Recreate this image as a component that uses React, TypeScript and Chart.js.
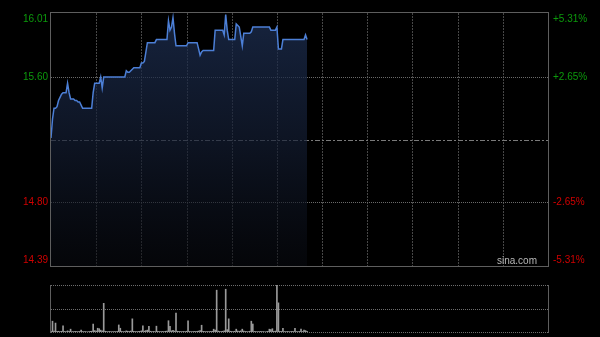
import React, { useEffect, useRef } from 'react';
import { Chart, registerables } from 'chart.js';

Chart.register(...registerables);

// ---- data ----
const TOTAL_MINUTES = 330; // HK session 09:30-12:00, 13:00-16:00
const prevClose = 15.2;
const priceMin = 14.39;
const priceMax = 16.01;
const priceTicks = [16.01, 15.6, 15.2, 14.8, 14.39];
const priceTickLabels = ['16.01', '15.60', '', '14.80', '14.39'];
const pctTickLabels = ['+5.31%', '+2.65%', '', '-2.65%', '-5.31%'];
const gridMinutes = [30, 60, 90, 120, 150, 180, 210, 240, 270, 300];
const volumeMax = 500;

const prices = [
  15.21, 15.33, 15.40, 15.40, 15.41, 15.45, 15.47, 15.49, 15.50, 15.50,
  15.50, 15.56, 15.50, 15.46, 15.46, 15.46, 15.45, 15.45, 15.44, 15.44,
  15.42, 15.40, 15.40, 15.40, 15.40, 15.40, 15.40, 15.40, 15.50, 15.56,
  15.56, 15.56, 15.56, 15.60, 15.53, 15.60, 15.60, 15.60, 15.60, 15.60,
  15.60, 15.60, 15.60, 15.60, 15.60, 15.60, 15.60, 15.60, 15.60, 15.60,
  15.64, 15.63, 15.63, 15.64, 15.65, 15.66, 15.66, 15.66, 15.66, 15.66,
  15.69, 15.69, 15.70, 15.76, 15.82, 15.82, 15.82, 15.82, 15.82, 15.82,
  15.84, 15.84, 15.84, 15.84, 15.84, 15.84, 15.84, 15.84, 15.96, 15.90,
  15.92, 15.98, 15.88, 15.80, 15.80, 15.80, 15.80, 15.80, 15.80, 15.80,
  15.80, 15.82, 15.82, 15.82, 15.82, 15.82, 15.82, 15.82, 15.78, 15.74,
  15.76, 15.77, 15.77, 15.77, 15.77, 15.77, 15.77, 15.77, 15.77, 15.90,
  15.90, 15.90, 15.90, 15.90, 15.90, 15.87, 16.00, 15.90, 15.84, 15.84,
  15.84, 15.84, 15.84, 15.94, 15.93, 15.92, 15.86, 15.80, 15.88, 15.88,
  15.88, 15.88, 15.88, 15.89, 15.92, 15.92, 15.92, 15.92, 15.92, 15.92,
  15.92, 15.92, 15.92, 15.92, 15.92, 15.92, 15.90, 15.90, 15.90, 15.90,
  15.92, 15.78, 15.78, 15.78, 15.84, 15.84, 15.84, 15.84, 15.84, 15.84,
  15.84, 15.84, 15.84, 15.84, 15.84, 15.84, 15.84, 15.84, 15.84, 15.87,
  15.84,
];

const volumes = [
  8, 115, 10, 95, 6, 8, 5, 7, 65, 6,
  5, 12, 6, 30, 5, 4, 6, 5, 4, 6,
  20, 5, 4, 5, 3, 4, 6, 8, 85, 15,
  10, 40, 35, 20, 12, 305, 8, 5, 4, 6,
  3, 4, 5, 4, 6, 75, 40, 6, 4, 5,
  12, 8, 6, 10, 140, 8, 5, 4, 6, 8,
  12, 65, 10, 15, 20, 60, 8, 5, 6, 4,
  62, 6, 5, 4, 6, 5, 8, 10, 120, 60,
  12, 18, 10, 200, 8, 6, 5, 4, 6, 5,
  8, 118, 6, 5, 4, 6, 5, 8, 10, 15,
  72, 6, 5, 4, 5, 4, 6, 8, 30, 20,
  445, 10, 6, 5, 8, 12, 455, 25, 140, 8,
  6, 5, 8, 30, 10, 8, 12, 30, 10, 6,
  5, 4, 8, 115, 85, 6, 5, 4, 5, 6,
  4, 5, 3, 4, 6, 30, 25, 35, 8, 10,
  500, 310, 8, 6, 40, 5, 4, 6, 5, 4,
  6, 5, 40, 5, 4, 6, 30, 5, 20, 15,
  8,
];

const minuteLabels = Array.from({ length: TOTAL_MINUTES + 1 }, (_, i) => String(i));

const GREEN = '#0c9a0c';
const RED = '#d00000';
const FONT = '10px "Liberation Sans", Arial, sans-serif';

function crisp(v: number) {
  return Math.round(v) + 0.5;
}

const mainPlugin = {
  id: 'sinaMain',
  beforeDatasetsDraw(chart: any) {
    const { ctx, chartArea: a, scales } = chart;
    const xs = scales.x;
    const ys = scales.y;
    ctx.save();
    ctx.lineWidth = 1;
    ctx.strokeStyle = '#474747';
    ctx.setLineDash([2, 1]);
    gridMinutes.forEach((m) => {
      const px = crisp(xs.getPixelForValue(m));
      ctx.beginPath();
      ctx.moveTo(px, a.top);
      ctx.lineTo(px, a.bottom);
      ctx.stroke();
    });
    priceTicks.forEach((v, k) => {
      if (k === 0 || k === priceTicks.length - 1) return;
      const py = crisp(ys.getPixelForValue(v));
      if (v === prevClose) {
        ctx.strokeStyle = '#7a7a7a';
        ctx.setLineDash([5, 2, 2, 2]);
      } else {
        ctx.strokeStyle = '#6a6a6a';
        ctx.setLineDash([1, 1]);
      }
      ctx.beginPath();
      ctx.moveTo(a.left, py);
      ctx.lineTo(a.right, py);
      ctx.stroke();
    });
    ctx.restore();
  },
  afterDraw(chart: any) {
    const { ctx, chartArea: a, scales } = chart;
    const ys = scales.y;
    ctx.save();
    ctx.setLineDash([]);
    ctx.strokeStyle = '#5e5e5e';
    ctx.lineWidth = 1;
    ctx.strokeRect(crisp(a.left) - 1, crisp(a.top) - 1, Math.round(a.right - a.left) + 1, Math.round(a.bottom - a.top) + 1);
    ctx.font = FONT;
    ctx.textBaseline = 'middle';
    priceTicks.forEach((v, k) => {
      let py = ys.getPixelForValue(v);
      py = Math.min(Math.max(py, a.top + 6), a.bottom - 6);
      const color = v > prevClose ? GREEN : RED;
      ctx.fillStyle = color;
      ctx.textAlign = 'right';
      if (priceTickLabels[k]) ctx.fillText(priceTickLabels[k], a.left - 3, py);
      ctx.textAlign = 'left';
      if (pctTickLabels[k]) ctx.fillText(pctTickLabels[k], a.right + 5, py);
    });
    ctx.fillStyle = '#b8b8b8';
    ctx.textAlign = 'right';
    ctx.font = '10px "Liberation Sans", Arial, sans-serif';
    ctx.fillText('sina.com', a.right - 11, a.bottom - 5);
    ctx.restore();
  },
};

const volPlugin = {
  id: 'sinaVol',
  beforeDatasetsDraw(chart: any) {
    const { ctx, chartArea: a, scales } = chart;
    const ys = scales.y;
    ctx.save();
    ctx.lineWidth = 1;
    ctx.strokeStyle = '#6e6e6e';
    ctx.setLineDash([1, 1]);
    [volumeMax, volumeMax / 2, 0].forEach((v) => {
      const py = crisp(ys.getPixelForValue(v));
      ctx.beginPath();
      ctx.moveTo(a.left, py);
      ctx.lineTo(a.right, py);
      ctx.stroke();
    });
    ctx.setLineDash([]);
    ctx.strokeStyle = '#5e5e5e';
    [a.left - 1, a.right].forEach((x) => {
      const px = crisp(x);
      ctx.beginPath();
      ctx.moveTo(px, a.top);
      ctx.lineTo(px, a.bottom + 1);
      ctx.stroke();
    });
    ctx.restore();
  },
};

export default function App() {
  const mainRef = useRef<HTMLCanvasElement | null>(null);
  const volRef = useRef<HTMLCanvasElement | null>(null);

  useEffect(() => {
    document.body.style.margin = '0';
    document.body.style.background = '#000';
    const mainCanvas = mainRef.current!;
    const volCanvas = volRef.current!;
    const mctx = mainCanvas.getContext('2d')!;

    const main = new Chart(mctx, {
      type: 'line',
      data: {
        labels: minuteLabels,
        datasets: [
          {
            data: prices,
            borderColor: '#4c7fd6',
            borderWidth: 1.5,
            pointRadius: 0,
            tension: 0,
            fill: 'start',
            backgroundColor: (c: any) => {
              const area = c.chart.chartArea;
              if (!area) return 'rgba(30,48,84,0.7)';
              const g = c.chart.ctx.createLinearGradient(0, area.top, 0, area.bottom);
              g.addColorStop(0, 'rgba(30,48,84,0.74)');
              g.addColorStop(0.5, 'rgba(20,30,52,0.68)');
              g.addColorStop(1, 'rgba(8,10,16,0.55)');
              return g;
            },
          },
        ],
      },
      options: {
        animation: false,
        responsive: false,
        devicePixelRatio: 1,
        layout: { padding: { left: 51, right: 52, top: 13, bottom: 6 } },
        plugins: { legend: { display: false }, tooltip: { enabled: false } },
        events: [],
        scales: {
          x: { type: 'category', display: false, offset: false },
          y: { type: 'linear', display: false, min: priceMin, max: priceMax },
        },
      },
      plugins: [mainPlugin],
    } as any);

    const vol = new Chart(volCanvas.getContext('2d')!, {
      type: 'bar',
      data: {
        labels: minuteLabels,
        datasets: [
          {
            data: volumes,
            backgroundColor: '#9a9a9a',
            barThickness: 1,
            borderWidth: 0,
          },
        ],
      },
      options: {
        animation: false,
        responsive: false,
        devicePixelRatio: 1,
        layout: { padding: { left: 51, right: 52, top: 13, bottom: 5 } },
        plugins: { legend: { display: false }, tooltip: { enabled: false } },
        events: [],
        scales: {
          x: { type: 'category', display: false, offset: false, grid: { offset: false } },
          y: { type: 'linear', display: false, min: 0, max: volumeMax },
        },
      },
      plugins: [volPlugin],
    } as any);

    return () => {
      main.destroy();
      vol.destroy();
    };
  }, []);

  return (
    <div style={{ position: 'relative', width: 600, height: 337, background: '#000', overflow: 'hidden' }}>
      <canvas
        ref={mainRef}
        width={600}
        height={272}
        style={{ position: 'absolute', left: 0, top: 0, width: 600, height: 272 }}
      />
      <canvas
        ref={volRef}
        width={600}
        height={65}
        style={{ position: 'absolute', left: 0, top: 272, width: 600, height: 65 }}
      />
    </div>
  );
}
